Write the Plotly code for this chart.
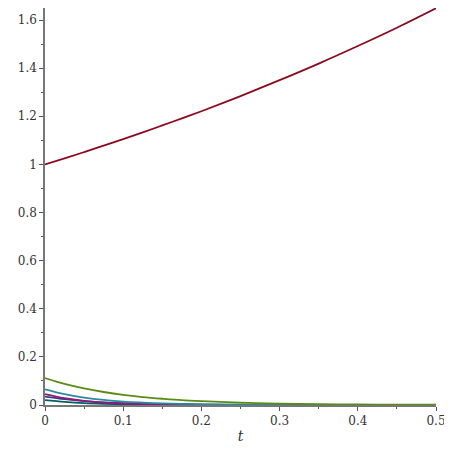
import plotly.graph_objects as go

t = [0, 0.025, 0.05, 0.075, 0.1, 0.125, 0.15, 0.175, 0.2, 0.25, 0.3, 0.35, 0.4, 0.45, 0.5]

red = [1.0, 1.025, 1.051, 1.078, 1.105, 1.133, 1.162, 1.191, 1.221, 1.284, 1.350, 1.419, 1.492, 1.568, 1.649]
green = [0.112, 0.088, 0.069, 0.054, 0.042, 0.033, 0.026, 0.020, 0.016, 0.010, 0.006, 0.004, 0.002, 0.001, 0.001]
cyan = [0.065, 0.045, 0.031, 0.021, 0.014, 0.010, 0.007, 0.005, 0.003, 0.002, 0.001, 0.0, 0.0, 0.0, 0.0]
magenta = [0.045, 0.028, 0.017, 0.010, 0.006, 0.004, 0.002, 0.001, 0.001, 0.0, 0.0, 0.0, 0.0, 0.0, 0.0]
navy = [0.035, 0.024, 0.016, 0.011, 0.008, 0.005, 0.003, 0.002, 0.001, 0.0, 0.0, 0.0, 0.0, 0.0, 0.0]
teal = [0.020, 0.013, 0.008, 0.005, 0.003, 0.002, 0.001, 0.001, 0.0, 0.0, 0.0, 0.0, 0.0, 0.0, 0.0]

series = [
    (teal, '#006060'),
    (navy, '#3c3c8c'),
    (magenta, '#8c1a7a'),
    (cyan, '#2a8aa0'),
    (green, '#5a8c14'),
    (red, '#8c0a1e'),
]

fig = go.Figure()
for ys, col in series:
    fig.add_trace(go.Scatter(x=t, y=ys, mode='lines', line=dict(color=col, width=1.8, shape='spline'),
                             showlegend=False))

# page body has an 8px margin, so the figure is a bit smaller than the window
fig.update_layout(
    width=444, height=444,
    margin=dict(l=37, r=16, t=0, b=47),
    plot_bgcolor='white', paper_bgcolor='white',
    font=dict(family='DejaVu Serif', size=12, color='#333333'),
)
fig.update_xaxes(
    range=[0, 0.5], tickvals=[0, 0.1, 0.2, 0.3, 0.4, 0.5], ticktext=['0', '0.1', '0.2', '0.3', '0.4', '0.5'],
    ticks='outside', ticklen=4, tickcolor='#555555',
    minor=dict(tickvals=[0.05, 0.15, 0.25, 0.35, 0.45], ticks='outside', ticklen=2, tickcolor='#555555'),
    showline=True, linecolor='#777777', linewidth=1.5, showgrid=False, zeroline=False,
    title=dict(text='<i>t</i>', standoff=4),
)
fig.update_yaxes(
    range=[0, 1.65], tickvals=[0, 0.2, 0.4, 0.6, 0.8, 1, 1.2, 1.4, 1.6],
    ticktext=['0', '0.2', '0.4', '0.6', '0.8', '1', '1.2', '1.4', '1.6'],
    ticks='outside', ticklen=4, tickcolor='#555555',
    minor=dict(tickvals=[0.1, 0.3, 0.5, 0.7, 0.9, 1.1, 1.3, 1.5], ticks='outside', ticklen=2, tickcolor='#555555'),
    showline=True, linecolor='#777777', linewidth=1.5, showgrid=False, zeroline=False,
)

fig.write_html("out.html")
